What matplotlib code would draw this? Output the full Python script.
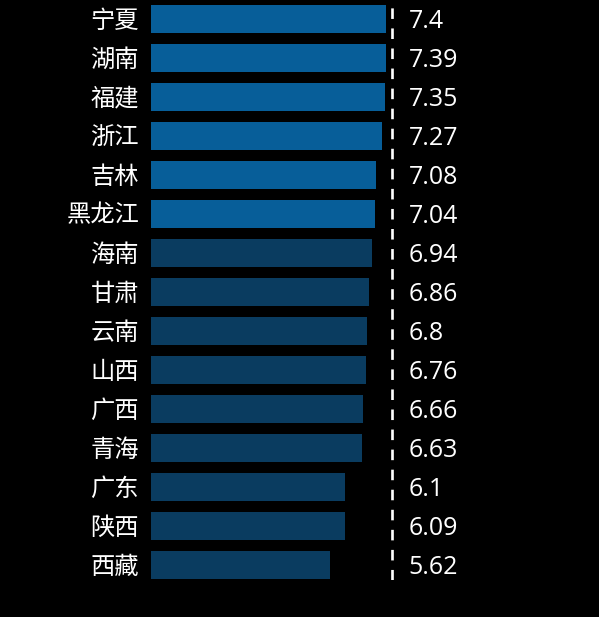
import matplotlib
matplotlib.use("Agg")
import matplotlib.pyplot as plt

plt.rcParams['font.family'] = ['Noto Sans CJK SC', 'DejaVu Sans']

# 数据
provinces = ["宁夏", "湖南", "福建", "浙江", "吉林", "黑龙江", "海南", "甘肃",
             "云南", "山西", "广西", "青海", "广东", "陕西", "西藏"]
values = [7.4, 7.39, 7.35, 7.27, 7.08, 7.04, 6.94, 6.86,
          6.8, 6.76, 6.66, 6.63, 6.1, 6.09, 5.62]
n_highlight = 6          # 前6名用亮蓝色
ref_line = 7.58          # 虚线位置

BRIGHT = "#075e99"
DARK = "#0a3c60"

W, H = 599, 617
fig = plt.figure(figsize=(W / 100, H / 100), dpi=100, facecolor="black")
# 坐标轴: 左边 x=151px, 每单位约31.8px
px_per_unit = 31.8
left_px, right_px = 151, 599
bottom_px, top_px = 580, 0
ax = fig.add_axes([left_px / W, 1 - bottom_px / H,
                   (right_px - left_px) / W, (bottom_px - top_px) / H])
ax.set_facecolor("black")

y = list(range(len(provinces)))
colors = [BRIGHT if i < n_highlight else DARK for i in y]
ax.barh(y, values, height=0.72, color=colors)

ax.set_xlim(0, (right_px - left_px) / px_per_unit)
ax.set_ylim((bottom_px - 19) / 39, -19 / 39)

ax.axvline(ref_line, color="white", lw=1.9, dashes=(4, 3.6))

for i, (name, v) in enumerate(zip(provinces, values)):
    ax.text(-0.38, i + 0.04, name, ha="right", va="center", color="white",
            fontsize=17.5)
    ax.text(ref_line + 0.52, i + 0.07, f"{v:g}", ha="left", va="center",
            color="white", fontsize=18, family=["Open Sans", "DejaVu Sans"])

for s in ax.spines.values():
    s.set_visible(False)
ax.set_xticks([])
ax.set_yticks([])

fig.savefig("out.png", dpi=100, facecolor="black")
